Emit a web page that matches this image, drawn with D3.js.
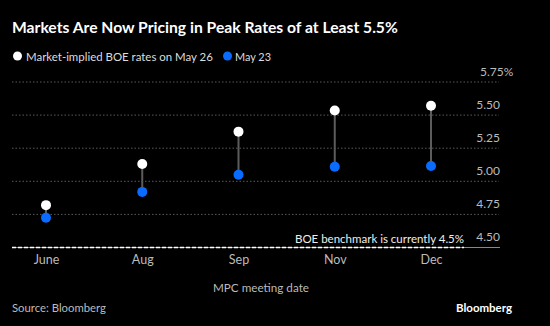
<!DOCTYPE html>
<html><head><meta charset="utf-8">
<script src="https://cdn.jsdelivr.net/npm/d3@7"></script>
<style>body{margin:0;background:#000;}svg{display:block;}text{font-family:Lato,"Noto Sans",sans-serif;}</style>
</head><body><svg id="c" width="550" height="326"></svg>
<script>
const months = ["June","Aug","Sep","Nov","Dec"];
const may26 = [4.82,5.13,5.375,5.535,5.57];
const may23 = [4.725,4.92,5.05,5.11,5.115];
const yTicks = [4.5,4.75,5.0,5.25,5.5,5.75];
const benchmark = 4.5;

const svg = d3.select("#c");
svg.append("rect").attr("width",550).attr("height",326).attr("fill","#000");
const x = d3.scalePoint().domain(months).range([46,431]);
const y = d3.scaleLinear().domain([4.5,5.75]).range([247.5,82]);

function fit(sel, w){
  const n = sel.node();
  const fs = parseFloat(sel.attr("font-size"));
  const len = n.getComputedTextLength();
  sel.attr("font-size", (fs*w/len).toFixed(2));
  return sel;
}

fit(svg.append("text").attr("x",12).attr("y",33).attr("fill","#fff").attr("font-size",16.5).attr("font-weight","bold").text("Markets Are Now Pricing in Peak Rates of at Least 5.5%"),386);
// legend
svg.append("circle").attr("cx",17.5).attr("cy",56).attr("r",4.5).attr("fill","#fff");
fit(svg.append("text").attr("x",26).attr("y",60.5).attr("fill","#ddd").attr("font-size",12.5).text("Market-implied BOE rates on May 26"),187);
svg.append("circle").attr("cx",227.5).attr("cy",56).attr("r",4.5).attr("fill","#0a6cff");
fit(svg.append("text").attr("x",235).attr("y",60.5).attr("fill","#ddd").attr("font-size",12.5).text("May 23"),36);

// grid
const yAxis = d3.axisRight(y).tickValues(yTicks).tickSize(0).tickFormat(d=>d3.format(".2f")(d));
const ga = svg.append("g").attr("transform","translate(500,0)").call(yAxis);
ga.select(".domain").remove();
ga.selectAll("text").attr("x",0).attr("dy",-7).attr("text-anchor","end").attr("fill","#bbb").attr("font-size",12).style("font-family","Lato,sans-serif");
ga.selectAll(".tick").filter(d=>d===5.75).select("text").attr("text-anchor","start").attr("x",-20).append("tspan").text("%");
svg.append("g").selectAll("line").data(yTicks.filter(d=>d!==4.5)).join("line")
  .attr("x1",12).attr("x2",499).attr("y1",d=>y(d)).attr("y2",d=>y(d))
  .attr("stroke","#5a5a5a").attr("stroke-width",1).attr("stroke-dasharray","1.5,2");
svg.append("line").attr("x1",12).attr("x2",500).attr("y1",y(4.5)).attr("y2",y(4.5)).attr("stroke","#888").attr("stroke-width",1);
svg.append("line").attr("x1",12).attr("x2",464).attr("y1",y(benchmark)).attr("y2",y(benchmark)).attr("stroke","#fff").attr("stroke-width",1.3).attr("stroke-dasharray","4,2");
fit(svg.append("text").attr("x",464).attr("y",y(benchmark)-4.5).attr("text-anchor","end").attr("fill","#eee").attr("font-size",12).text("BOE benchmark is currently 4.5%"),169);

// stems and dots
const data = months.map((m,i)=>({m,a:may26[i],b:may23[i]}));
svg.append("g").selectAll("line").data(data).join("line")
  .attr("x1",d=>x(d.m)).attr("x2",d=>x(d.m)).attr("y1",d=>y(d.a)).attr("y2",d=>y(d.b))
  .attr("stroke","#5c5c5c").attr("stroke-width",2);
svg.append("g").selectAll("circle").data(data).join("circle")
  .attr("cx",d=>x(d.m)).attr("cy",d=>y(d.b)).attr("r",5).attr("fill","#0a6cff");
svg.append("g").selectAll("circle").data(data).join("circle")
  .attr("cx",d=>x(d.m)).attr("cy",d=>y(d.a)).attr("r",5).attr("fill","#fff");

// x axis
const xAxis = d3.axisBottom(x).tickSize(0);
const gx = svg.append("g").attr("transform","translate(0,252)").call(xAxis);
gx.select(".domain").remove();
gx.selectAll("text").attr("dy",0).attr("y",11.5).attr("fill","#bbb").attr("font-size",12.5).style("font-family","Lato,sans-serif");
fit(svg.append("text").attr("x",261).attr("y",291.5).attr("text-anchor","middle").attr("fill","#bbb").attr("font-size",12).text("MPC meeting date"),96);
fit(svg.append("text").attr("x",12).attr("y",311.5).attr("fill","#bbb").attr("font-size",11.5).text("Source: Bloomberg"),94);
fit(svg.append("text").attr("x",512).attr("y",311.5).attr("text-anchor","end").attr("fill","#fff").attr("font-size",11.5).attr("font-weight","bold").text("Bloomberg"),56);
</script></body></html>
